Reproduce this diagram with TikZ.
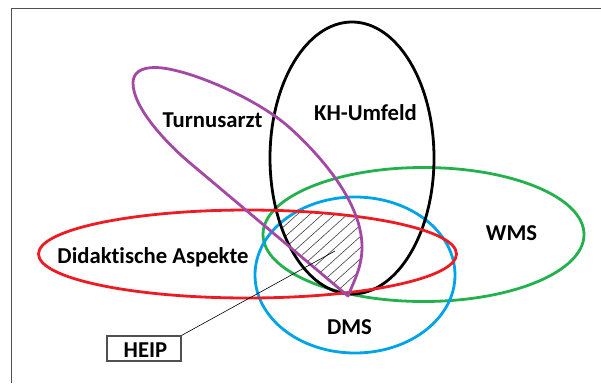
\documentclass[tikz,border=0pt]{standalone}
\usepackage{fontspec}
\setmainfont{Carlito}[Ligatures=NoCommon]
\definecolor{vred}{HTML}{ED1C24}
\definecolor{vgreen}{HTML}{22B14C}
\definecolor{vblue}{HTML}{00A2E8}
\definecolor{vpurple}{HTML}{A349A4}
\definecolor{framegray}{HTML}{505050}
\tikzset{
  setline/.style={line width=2.8pt},
  setlabel/.style={inner sep=0pt, anchor=base, font=\fontsize{22.7}{27}\selectfont\bfseries},
  hatchline/.style={line width=0.6pt, black!75},
  tagbox/.style={draw=framegray, line width=1.2pt, minimum width=74pt, minimum height=25pt, inner sep=0pt},
}
\begin{document}
\begin{tikzpicture}[x=1pt, y=-1pt]
\useasboundingbox (0,0) rectangle (601,383);
% page frame (left and top edges)
\draw[framegray, line width=1.2pt] (11.7,383) -- (11.7,8.3) -- (601,8.3);

% outline of the "Turnusarzt" set: pointed lower end, rounded upper end
\def\purplepath{(348,296)
  .. controls (309.7,263.8) and (228.3,195.2) .. (190,163)
  .. controls (167,143.7) and (133,108) .. (133,83)
  .. controls (133,72) and (142,67.5) .. (155,67.5)
  .. controls (185,67.5) and (256.7,97.9) .. (290,128)
  .. controls (319.6,154.8) and (362,202) .. (362,247)
  .. controls (362,267) and (354,281) .. (348,296)}

% common part of all sets, hatched
\begin{scope}
  \clip \purplepath -- cycle;
  \clip (352,158) ellipse [x radius=82pt, y radius=136pt];
  \clip (247.5,254) ellipse [x radius=209pt, y radius=44pt];
  \clip (423.5,234.5) ellipse [x radius=160.5pt, y radius=67pt];
  \clip (355,275) ellipse [x radius=100pt, y radius=78pt];
  \foreach \s in {0,...,24}
    \draw[hatchline] (130+12.5*\s,320) -- ++(140,-126);
\end{scope}

% outlines
\draw[setline, vgreen] (423.5,234.5) ellipse [x radius=160.5pt, y radius=67pt];
\draw[setline, vblue] (355,275) ellipse [x radius=100pt, y radius=78pt];
\draw[setline, black] (352,158) ellipse [x radius=82pt, y radius=136pt];
\draw[setline, vred] (247.5,254) ellipse [x radius=209pt, y radius=44pt];
\draw[setline, vpurple, line join=round] \purplepath -- cycle;

% labels
\node[setlabel] (turnus) at (212.5,127.5) {Turnusarzt};
\node[setlabel] (kh) at (365.5,120) {KH-Umfeld};
\node[setlabel] (didakt) at (153,263.5) {Didaktische Aspekte};
\node[setlabel] (wms) at (511.5,240) {WMS};
\node[setlabel] (dms) at (349.5,334) {DMS};

% tag for the common part
\node[tagbox] (heip) at (144,348.5) {};
\node[setlabel] (heiptext) at (145.5,357) {HEIP};
\coordinate (heipend) at (335,251);
\draw[line width=0.6pt, black] (heip.north east) -- (heipend);
\end{tikzpicture}
\end{document}
